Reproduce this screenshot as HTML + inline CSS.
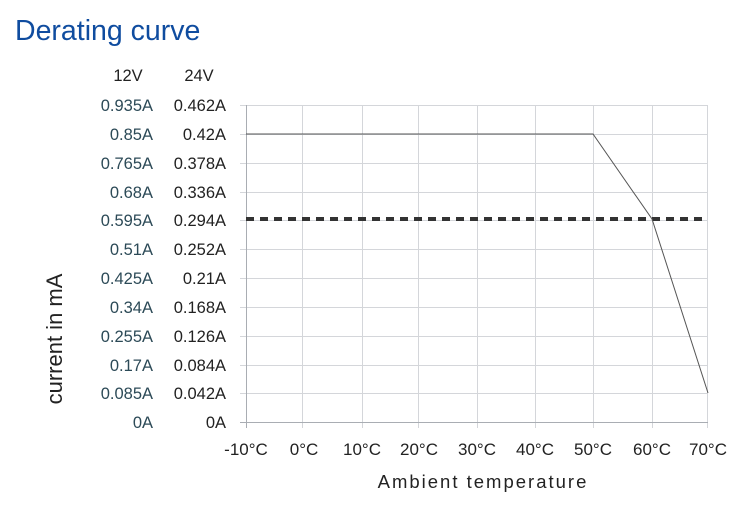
<!DOCTYPE html>
<html><head><meta charset="utf-8"><style>
html,body{margin:0;padding:0;background:#fff;width:751px;height:516px;overflow:hidden}
svg{display:block;font-family:"Liberation Sans",Arial,sans-serif}
</style></head><body>
<svg width="751" height="516" viewBox="0 0 751 516">
<text x="15" y="40" font-size="28.5" fill="#0f4c9f">Derating curve</text>
<text x="128" y="81" font-size="16.5" fill="#222" text-anchor="middle">12V</text>
<text x="199" y="81" font-size="16.5" fill="#222" text-anchor="middle">24V</text>
<g stroke="#d4d6da" stroke-width="1">
<line x1="240" y1="105.5" x2="708" y2="105.5"/>
<line x1="240" y1="134.5" x2="708" y2="134.5"/>
<line x1="240" y1="163.5" x2="708" y2="163.5"/>
<line x1="240" y1="192.5" x2="708" y2="192.5"/>
<line x1="240" y1="220.5" x2="708" y2="220.5"/>
<line x1="240" y1="249.5" x2="708" y2="249.5"/>
<line x1="240" y1="278.5" x2="708" y2="278.5"/>
<line x1="240" y1="307.5" x2="708" y2="307.5"/>
<line x1="240" y1="336.5" x2="708" y2="336.5"/>
<line x1="240" y1="365.5" x2="708" y2="365.5"/>
<line x1="240" y1="393.5" x2="708" y2="393.5"/>
<line x1="302.5" y1="105" x2="302.5" y2="428"/>
<line x1="362.5" y1="105" x2="362.5" y2="428"/>
<line x1="418.5" y1="105" x2="418.5" y2="428"/>
<line x1="477.5" y1="105" x2="477.5" y2="428"/>
<line x1="535.5" y1="105" x2="535.5" y2="428"/>
<line x1="593.5" y1="105" x2="593.5" y2="428"/>
<line x1="652.5" y1="105" x2="652.5" y2="428"/>
<line x1="707.5" y1="105" x2="707.5" y2="428"/>
</g>
<line x1="246.5" y1="105" x2="246.5" y2="428" stroke="#a9adb3"/>
<line x1="240" y1="422.5" x2="708" y2="422.5" stroke="#a9adb3"/>
<line x1="246" y1="219" x2="708" y2="219" stroke="#333" stroke-width="4" stroke-dasharray="8,6"/>
<polyline points="246,134 593,134 652,219 708,393" fill="none" stroke="#555" stroke-width="1"/>
<g font-size="16.5" text-anchor="end">
<g fill="#2c4a57">
<text x="153" y="111">0.935A</text><text x="153" y="140">0.85A</text><text x="153" y="169">0.765A</text>
<text x="153" y="198">0.68A</text><text x="153" y="226">0.595A</text><text x="153" y="255">0.51A</text>
<text x="153" y="284">0.425A</text><text x="153" y="313">0.34A</text><text x="153" y="342">0.255A</text>
<text x="153" y="371">0.17A</text><text x="153" y="399">0.085A</text><text x="153" y="428">0A</text>
</g>
<g fill="#222">
<text x="226" y="111">0.462A</text><text x="226" y="140">0.42A</text><text x="226" y="169">0.378A</text>
<text x="226" y="198">0.336A</text><text x="226" y="226">0.294A</text><text x="226" y="255">0.252A</text>
<text x="226" y="284">0.21A</text><text x="226" y="313">0.168A</text><text x="226" y="342">0.126A</text>
<text x="226" y="371">0.084A</text><text x="226" y="399">0.042A</text><text x="226" y="428">0A</text>
</g>
</g>
<g font-size="17" fill="#222" text-anchor="middle">
<text x="246" y="455">-10°C</text><text x="304" y="455">0°C</text><text x="362" y="455">10°C</text>
<text x="419" y="455">20°C</text><text x="477" y="455">30°C</text><text x="535" y="455">40°C</text>
<text x="593" y="455">50°C</text><text x="652" y="455">60°C</text><text x="708" y="455">70°C</text>
</g>
<text x="483" y="488" font-size="18.5" fill="#222" text-anchor="middle" letter-spacing="2">Ambient temperature</text>
<text transform="translate(62,339) rotate(-90)" font-size="22" fill="#222" text-anchor="middle">current in mA</text>
</svg>
</body></html>
